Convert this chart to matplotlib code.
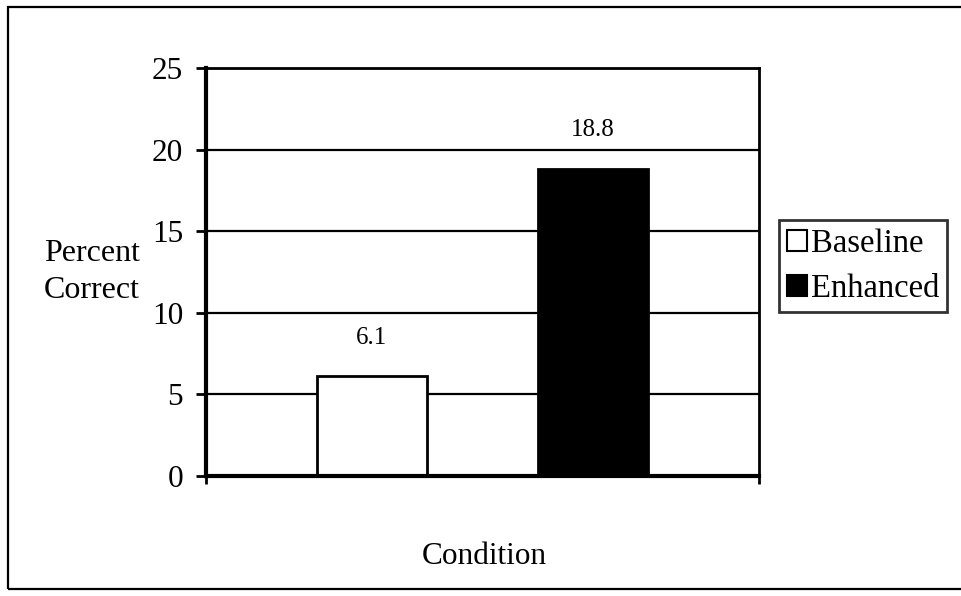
import matplotlib.pyplot as plt
from matplotlib.patches import Rectangle, Patch

series = ["Baseline", "Enhanced"]
values = [6.1, 18.8]
colors = ["white", "black"]
yticks = [0, 5, 10, 15, 20, 25]

plt.rcParams['font.family'] = ['Liberation Serif', 'DejaVu Serif']

fig = plt.figure(figsize=(9.62, 5.96), dpi=100)
ax = fig.add_axes([206 / 962, 1 - 476 / 596, 553 / 962, 408 / 596])

# outer chart frame (right edge runs off the picture)
fig.add_artist(Rectangle((8 / 962, 1 - 589 / 596), 1.0, 582 / 596,
                         transform=fig.transFigure, fill=False,
                         edgecolor='black', lw=1.6))

xs = list(range(len(series)))
bars = ax.bar(xs, values, width=0.5, color=colors, edgecolor='black',
              linewidth=2, zorder=3)

for x, v in zip(xs, values):
    ax.annotate(f"{v}", (x, v), xytext=(0, 20), textcoords='offset points',
                ha='center', va='bottom', fontsize=18)

ax.set_xlim(-0.75, 1.75)
ax.set_ylim(0, 25)
ax.set_yticks(yticks)
ax.tick_params(axis='y', labelsize=22.5, length=7.5, width=2, pad=9,
               direction='out')
ax.set_xticks([-0.75, 1.75])
ax.set_xticklabels(["", ""])
ax.tick_params(axis='x', length=6, width=2, direction='out')

ax.grid(axis='y', color='black', linewidth=1.6, zorder=0)
ax.spines['left'].set_linewidth(3)
ax.spines['bottom'].set_linewidth(3)
ax.spines['right'].set_linewidth(2)
ax.spines['top'].set_linewidth(2)
for s in ax.spines.values():
    s.set_zorder(4)

fig.text(92 / 962, 1 - 272 / 596, "Percent\nCorrect", ha='center',
         va='center', fontsize=23, linespacing=1.35)
fig.text(484 / 962, 1 - 557 / 596, "Condition", ha='center', va='center',
         fontsize=22.5)

handles = [Patch(facecolor=c, edgecolor='black', linewidth=1.5)
           for c in colors]
leg = fig.legend(handles, series, loc='center left',
                 bbox_to_anchor=(779 / 962, 1 - 266 / 596),
                 fontsize=23.5, frameon=True, fancybox=False,
                 handlelength=0.62, handleheight=0.6, handletextpad=0.1,
                 borderpad=0.25, labelspacing=0.45, borderaxespad=0)
leg.get_frame().set_edgecolor('black')
leg.get_frame().set_linewidth(2)

fig.savefig("out.png", dpi=100)
